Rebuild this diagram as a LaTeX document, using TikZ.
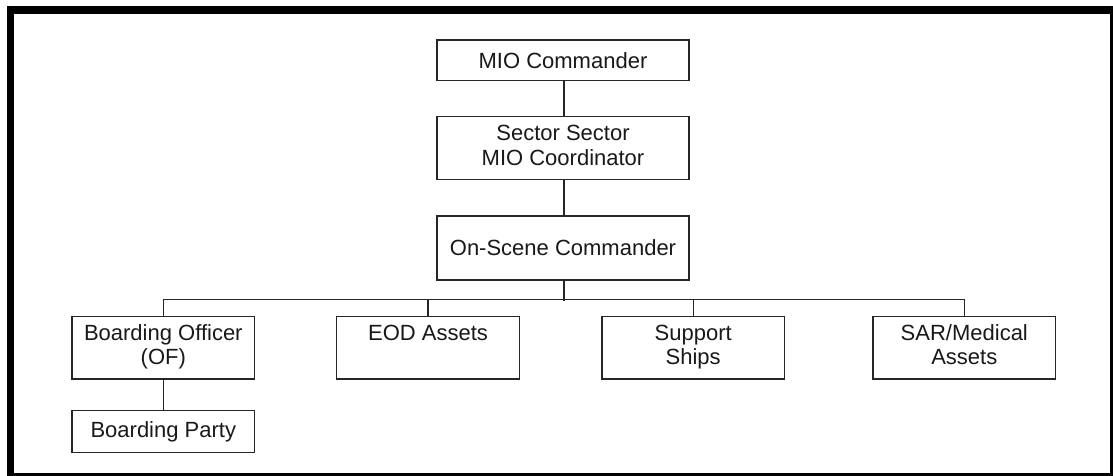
\documentclass[tikz,border=0pt]{standalone}
\usepackage{fontspec}
\setmainfont{Liberation Sans}
\begin{document}
\begin{tikzpicture}[x=1pt,y=-1pt,
  box/.style={draw=black!85, line width=1.3pt, inner sep=0pt, align=center,
    text=black!90, font=\fontsize{22}{24.5}\selectfont},
  topbox/.style={box, minimum width=252pt},
  lowbox/.style={box, minimum width=182.5pt, minimum height=62.7pt},
  link/.style={draw=black!85, line width=1.3pt}]
\useasboundingbox (0,0) rectangle (1113,476);
% thick black frame
\fill[black] (6.5,6.5) rectangle (1113,476);
\fill[white] (14,14) rectangle (1110,472.7);

% chain of command
\node[topbox, minimum height=40.7pt] (mio) at (563,60.5) {MIO Commander};
\node[topbox, minimum height=62.6pt] (smc) at (563,148) {\strut Sector Sector\\\strut MIO Coordinator};
\node[topbox, minimum height=64pt] (osc) at (563,248) {On-Scene Commander};

% subordinate elements
\node[lowbox] (bo)  at (163.3,347.6) {\strut Boarding Officer\\\strut (OF)};
\node[lowbox] (eod) at (428,347.6)   {\strut EOD Assets\\\strut};
\node[lowbox] (sup) at (693.2,347.6) {\strut Support\\\strut Ships};
\node[lowbox] (sar) at (964.3,347.6) {\strut SAR/Medical\\\strut Assets};
\node[box, minimum width=182.5pt, minimum height=42pt] (bp) at (163.3,431.7) {Boarding Party};

% connectors
\coordinate (bus) at (564,299.3);
\draw[link] (mio.south -| bus) -- (smc.north -| bus);
\draw[link] (smc.south -| bus) -- (osc.north -| bus);
\draw[link] (osc.south -| bus) -- ([yshift=-2pt]bus);
\draw[link] (bo.north) |- (bus) -| (sar.north);
\draw[link] (eod.north) -- (eod.north |- bus);
\draw[link] (sup.north) -- (sup.north |- bus);
\draw[link] (bo.south) -- (bp.north);
\end{tikzpicture}
\end{document}
